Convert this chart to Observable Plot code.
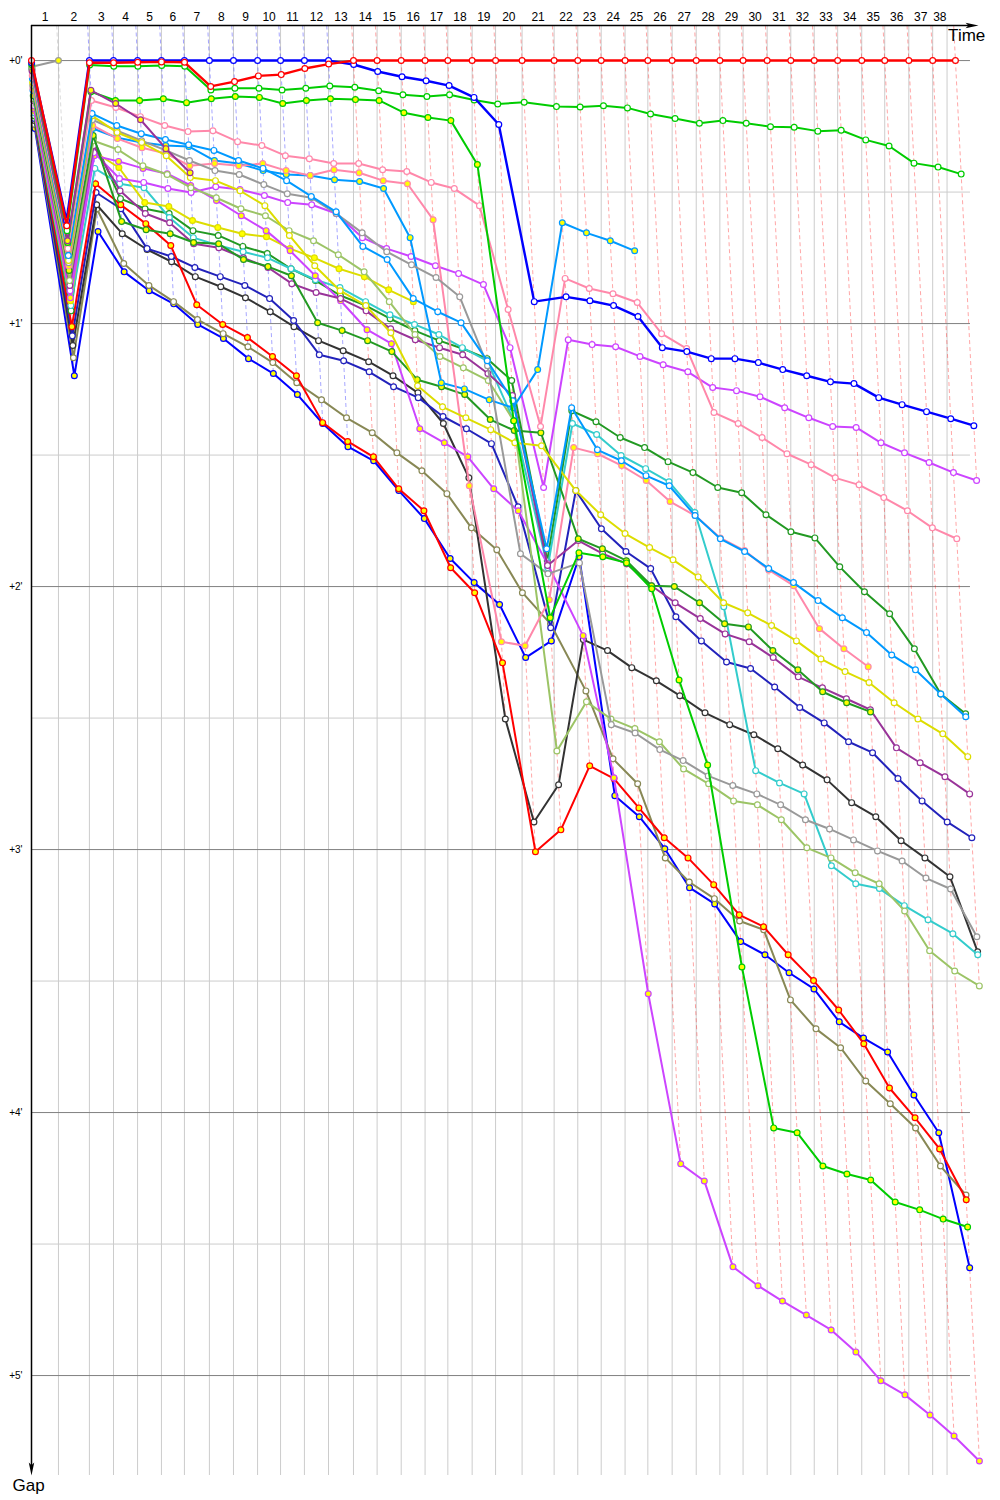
<!DOCTYPE html>
<html><head><meta charset="utf-8">
<script src="https://cdn.jsdelivr.net/npm/d3@7"></script>
<script src="https://cdn.jsdelivr.net/npm/@observablehq/plot@0.6"></script>
<style>body{margin:0;background:#fff} svg{display:block}</style>
</head><body><div id="chart"></div>
<script>
// Leader's elapsed time (s) at the end of each lap 0..38
const lapTimes = [0,122,262,371,480,588,692,805,914,1023,1127,1235,1344,1457,1564,1673,1781,1884,1994,2100,2220,2365,2472,2578,2686,2789,2899,3008,3115,3220,3329,3436,3542,3648,3757,3861,3970,4078,4181];
const flagTime = 4143;
const lapLabels = d3.range(1, 39).map(String);
const gapMajor = [0, 60, 120, 180, 240, 300];
const gapMinor = [30, 90, 150, 210, 270];
const gapLabels = ["+0'", "+1'", "+2'", "+3'", "+4'", "+5'"];

// Gaps to the leader (seconds), one value per completed lap starting at lap 0
const red1 = [0,37.7,0.5,0.5,0.4,0.3,0.4,5.9,4.8,3.5,3.2,1.8,0.8,0,0,0,0,0,0,0,0,0,0,0,0,0,0,0,0,0,0,0,0,0,0,0,0,0,0];
const blue1 = [0.5,36.5,0,0,0,0,0,0,0,0,0,0,0,0.9,2.5,3.7,4.6,5.7,8.4,14.6,55.0,53.9,54.8,55.9,58.4,65.5,66.4,68.0,68.0,68.9,70.5,71.9,73.3,73.7,76.9,78.5,80.1,81.7,83.3];
const green1 = [0.9,38.8,1.0,1.3,1.3,1.1,1.3,6.7,6.3,6.3,6.7,6.3,5.8,6.1,6.9,7.8,8.2,7.8,9.0,9.9,9.5,10.5,10.6,10.3,10.8,12.2,13.2,14.3,13.7,14.3,15.1,15.2,16.1,15.9,18.1,19.5,23.4,24.3,25.9];
const gray2 = [1.4,0];
const violet2 = [2.3,41.1,6.8,9.8,13.5,20.1,25.6];
const green2 = [1.8,41.5,7.1,9.1,9.1,8.7,9.6,8.7,8.2,8.4,9.8,9.1,8.7,8.9,9.1,11.9,13.0,13.7,23.7,82.2,127.1,112.3,113.2,114.6,120.5,141.3,160.7,206.8,243.5,244.6,252.2,254.0,255.4,260.4,262.2,264.3,266.1];
const pink1 = [3.4,42.9,9.1,10.7,12.8,14.8,16.2,16.0,18.5,19.4,21.7,22.4,23.5,23.5,24.9,25.3,27.8,29.2,33.1,56.8,83.5,49.7,52.0,53.2,55.2,62.3,65.7,80.3,82.8,86.0,89.7,92.2,95.2,96.8,99.7,102.7,106.6,109.1];
const sky1 = [4.1,44.5,12.1,14.8,16.7,18.0,19.2,20.5,22.8,24.6,27.4,31.0,34.5,42.4,45.4,54.3,57.3,59.8,68.5,77.6,111.4,79.2,88.8,91.3,94.7,97.0,103.8,109.1,112.0,115.9,119.1,123.2,127.1,130.5,135.6,139.0,144.5,149.7];
const yellow1 = [5.0,45.6,12.6,16.4,18.7,21.7,26.7,27.4,29.7,33.1,39.9,46.8,52.5,55.9,62.1,74.2,79.0,81.5,84.2,87.2,87.9,98.1,103.6,107.9,111.1,113.9,117.8,123.7,126.0,128.9,132.4,136.5,139.4,141.9,146.5,150.2,153.6,158.8];
const gray1 = [5.7,46.1,13.5,16.0,18.3,20.5,22.8,25.1,26.0,28.3,30.4,31.3,34.9,39.3,43.6,46.6,49.5,53.9,69.6,112.5,117.1,114.6,151.5,153.4,157.2,159.7,163.2,165.4,167.3,169.8,173.2,175.3,177.8,180.3,182.6,186.5,189.0,199.9];
const pink2 = [6.4,46.8,14.8,17.8,19.9,21.2,24.0,23.5,24.0,23.5,25.1,26.2,24.9,25.6,27.4,28.1,36.3,97.0,132.6,133.5,123.0,88.3,89.7,92.4,95.8,100.6,103.8,108.9,111.8,116.2,119.8,129.6,134.2,138.3];
const sky2 = [6.8,45.4,15.5,17.6,18.7,19.4,19.6,22.8,23.5,25.1,26.0,26.2,27.2,27.6,29.2,40.4,73.5,74.9,77.4,79.2,70.5,37.0,39.3,41.1,43.4];
const dkgreen2 = [8.0,47.9,17.1,36.7,38.6,39.5,41.5,41.8,45.4,47.0,49.1,59.8,61.6,63.9,66.4,72.8,74.4,76.2,81.9,84.4,84.9,109.1,111.4,114.1,119.8,120.0,123.7,128.5,129.2,134.6,139.0,144.0,146.5,148.6];
const ltgreen1 = [8.7,50.2,18.3,20.3,24.0,26.0,29.0,31.3,33.8,35.4,38.8,41.1,44.3,48.2,55.0,62.5,67.5,70.1,73.0,82.2,157.5,146.3,150.2,152.4,155.4,161.6,165.0,168.9,169.8,173.2,179.6,181.9,185.3,187.8,194.0,203.1,207.7,211.1];
const violet1 = [9.1,51.3,19.4,29.7,34.9,37.0,41.8,42.7,45.0,47.2,50.9,52.9,54.3,57.1,61.2,63.7,65.5,67.1,71.4,76.4,115.2,109.5,112.5,114.8,119.8,123.7,127.3,130.8,132.6,136.2,140.6,143.1,145.6,148.1,156.8,160.2,163.4,167.3];
const magenta1 = [10.3,52.5,21.0,26.9,27.8,29.2,30.1,28.8,29.4,30.8,32.4,32.9,34.9,40.4,42.9,44.7,46.8,48.6,51.1,65.5,97.4,63.7,64.8,65.3,67.5,69.4,71.0,74.6,75.3,76.7,79.2,81.5,83.5,83.7,87.2,89.5,91.7,94.0,95.8];
const magenta2 = [11.0,54.1,21.7,23.0,24.6,25.8,28.5,31.9,35.4,38.8,43.4,49.1,54.8,61.4,64.6,84.0,87.2,90.4,97.7,102.7,114.8,131.2,163.6,212.9,251.7,255.6,275.2,279.5,283.0,286.2,289.6,294.6,301.2,304.4,309.0,313.8,319.5];
const yellow2 = [11.4,54.8,20.8,24.4,32.4,33.3,36.5,38.1,39.5,40.2,42.9,45.0,47.5,49.3,52.3,55.0];
const cyan1 = [11.9,55.9,24.6,28.1,29.0,35.8,40.4,42.2,43.6,45.0,47.5,50.0,51.8,55.0,58.0,60.2,62.5,65.5,68.5,82.2,115.7,82.8,85.3,90.1,93.1,96.1,103.1,124.6,162.0,164.8,167.3,183.7,187.8,188.9,192.8,196.0,199.2,204.0];
const dkgreen1 = [12.6,57.1,17.8,31.5,33.8,34.9,38.8,39.9,42.4,44.0,47.5,50.2,53.6,55.9,58.9,61.6,63.9,65.7,68.0,73.0,114.1,79.9,82.4,86.0,88.3,91.5,94.0,97.4,98.6,103.6,107.5,108.9,115.5,121.2,126.2,134.2,144.5,149.0];
const red2 = [12.6,60.7,28.1,32.9,37.2,42.2,55.7,60.2,63.2,67.5,71.9,82.6,86.9,90.4,97.7,102.7,115.7,121.4,137.4,180.5,175.5,160.9,163.8,170.5,177.3,181.9,188.0,194.9,197.6,204.0,209.9,216.6,224.3,234.4,241.2,248.3,259.9];
const navy1 = [13.2,62.8,30.1,33.8,42.9,44.7,47.2,49.3,51.3,54.3,59.3,67.1,68.5,71.0,74.4,76.9,81.2,84.0,87.4,101.8,129.4,98.1,106.8,112.0,115.9,126.9,132.4,137.2,138.7,142.9,147.6,151.1,155.4,157.9,163.8,168.9,173.7,177.3];
const black1 = [13.7,65.0,32.9,39.5,43.1,45.9,49.3,51.6,54.1,57.3,60.7,63.9,66.2,68.7,71.9,75.8,82.8,95.2,150.2,173.7,165.2,132.1,134.6,138.5,141.5,144.9,148.8,151.5,153.8,157.0,160.7,164.1,169.3,172.5,178.0,181.9,186.2,203.3];
const olive1 = [14.6,67.8,33.8,46.3,51.3,55.0,59.1,62.3,65.3,68.9,73.5,77.4,81.5,84.9,89.5,93.6,98.8,106.6,111.6,121.4,128.5,143.8,159.3,165.0,181.9,187.4,191.2,196.3,198.3,214.3,220.9,225.2,232.8,238.0,243.5,252.2,258.8];
const blue2 = [15.5,71.9,39.0,48.2,52.5,55.5,60.2,63.4,68.0,71.4,76.2,82.8,88.1,91.3,98.1,104.5,113.6,119.1,124.1,136.2,132.4,113.2,167.7,172.5,179.8,188.7,192.4,201.0,204.0,208.1,211.8,219.3,223.0,226.2,236.0,244.6,275.4];

const W = "white", Yf = "#ffff00";
const drivers = [
  {id:"red1", color:"#ff0000", fill:W, gaps:red1},
  {id:"blue1", color:"#0000ff", fill:W, gaps:blue1},
  {id:"green1", color:"#00cc00", fill:W, gaps:green1},
  {id:"gray2", color:"#999999", fill:Yf, gaps:gray2},
  {id:"violet2", color:"#993399", fill:Yf, gaps:violet2},
  {id:"green2", color:"#00cc00", fill:Yf, gaps:green2},
  {id:"pink1", color:"#ff88aa", fill:W, gaps:pink1},
  {id:"sky1", color:"#0099ff", fill:W, gaps:sky1},
  {id:"yellow1", color:"#dddd00", fill:W, gaps:yellow1},
  {id:"gray1", color:"#999999", fill:W, gaps:gray1},
  {id:"pink2", color:"#ff88aa", fill:Yf, gaps:pink2},
  {id:"sky2", color:"#0099ff", fill:Yf, gaps:sky2},
  {id:"dkgreen2", color:"#229922", fill:Yf, gaps:dkgreen2},
  {id:"ltgreen1", color:"#9cc466", fill:W, gaps:ltgreen1},
  {id:"violet1", color:"#993399", fill:W, gaps:violet1},
  {id:"magenta1", color:"#cc44ff", fill:W, gaps:magenta1},
  {id:"magenta2", color:"#cc44ff", fill:Yf, gaps:magenta2},
  {id:"yellow2", color:"#dddd00", fill:Yf, gaps:yellow2},
  {id:"cyan1", color:"#33cccc", fill:W, gaps:cyan1},
  {id:"dkgreen1", color:"#229922", fill:W, gaps:dkgreen1},
  {id:"red2", color:"#ff0000", fill:Yf, gaps:red2},
  {id:"navy1", color:"#2222bb", fill:W, gaps:navy1},
  {id:"black1", color:"#333333", fill:W, gaps:black1},
  {id:"olive1", color:"#888855", fill:W, gaps:olive1},
  {id:"blue2", color:"#0000ff", fill:Yf, gaps:blue2}
];

const yTop = -8, yBot = 322.8, xMax = 4317, gridEnd = 4249;

const pts = d => d.gaps.map((g, i) => ({lap: i, t: lapTimes[i] + g, gap: g}));

// dashed lap lines: from the top axis down to the last car of that lap, coloured by the lap leader
const dashed = d3.range(1, 39).map(n => {
  const cands = drivers.filter(d => d.gaps.length > n);
  const leader = d3.least(cands, d => d.gaps[n]);
  const last = d3.max(cands, d => d.gaps[n]);
  return {x1: lapTimes[n] + yTop, y1: yTop, x2: lapTimes[n] + last, y2: last, color: leader.color};
});
const bounds = [0, ...lapTimes.slice(1, 38), flagTime];
const vLines = bounds.slice(1);
const labelPos = lapLabels.map((l, i) => ({t: (bounds[i] + bounds[i + 1]) / 2, label: l}));

const arrowSym = {draw(ctx, size) {
  const r = Math.sqrt(size / Math.PI);
  ctx.moveTo(r, 0); ctx.lineTo(-r, -r * 0.42); ctx.lineTo(-r * 0.55, 0); ctx.lineTo(-r, r * 0.42); ctx.closePath();
}};

const driverMarks = drivers.slice().reverse().flatMap(d => [
  Plot.line(pts(d), {x: "t", y: "gap", stroke: d.color, strokeWidth: d.id === "blue1" || d.id === "red1" ? 2.4 : 2}),
  Plot.dot(pts(d), {x: "t", y: "gap", r: 2.9, fill: d.fill, stroke: d.color, strokeWidth: 1.2})
]);

const chart = Plot.plot({
  width: 1000, height: 1500,
  marginTop: 25, marginBottom: 25, marginLeft: 31, marginRight: 15,
  x: {domain: [0, xMax], axis: null},
  y: {domain: [yTop, yBot], range: [25, 1475], axis: null},
  style: {fontFamily: "Liberation Sans, Arial, sans-serif", background: "white", overflow: "visible"},
  marks: [
    Plot.ruleY(gapMinor, {x1: 0, x2: gridEnd, stroke: "#cccccc", strokeWidth: 1}),
    Plot.ruleX(vLines, {y1: yTop, y2: yBot, stroke: "#cccccc", strokeWidth: 1}),
    Plot.ruleY(gapMajor, {x1: 0, x2: gridEnd, stroke: "#808080", strokeWidth: 1}),
    Plot.link(dashed, {x1: "x1", y1: "y1", x2: "x2", y2: "y2", stroke: d => d.color, strokeOpacity: 0.35, strokeWidth: 1, strokeDasharray: "4,3"}),
    ...driverMarks,
    Plot.ruleY([yTop], {x1: 0, x2: 4256, stroke: "black", strokeWidth: 1.5}),
    Plot.ruleX([0], {y1: yTop, y2: 321, stroke: "black", strokeWidth: 1.5}),
    Plot.dot([0], {x: () => 4256, y: () => yTop, symbol: arrowSym, r: 6.5, fill: "black", stroke: null}),
    Plot.dot([0], {x: () => 0, y: () => 321.3, symbol: arrowSym, r: 6.5, rotate: 90, fill: "black", stroke: null}),
    Plot.text(labelPos, {x: "t", y: () => yTop, text: "label", dy: -8, fontSize: 12, fill: "black"}),
    Plot.text(gapMajor, {x: () => 0, y: d => d, text: (d, i) => gapLabels[i], dx: -9, textAnchor: "end", fontSize: 10, fill: "black"}),
    Plot.text(["Time"], {x: () => 4316, y: () => yTop, text: d => d, dy: 3, lineAnchor: "top", textAnchor: "end", fontSize: 17, fill: "black"}),
    Plot.text(["Gap"], {x: () => 0, y: () => yBot, text: d => d, dx: -19, dy: 3, lineAnchor: "top", textAnchor: "start", fontSize: 17, fill: "black"})
  ]
});
document.getElementById("chart").appendChild(chart);
</script>
</body></html>
